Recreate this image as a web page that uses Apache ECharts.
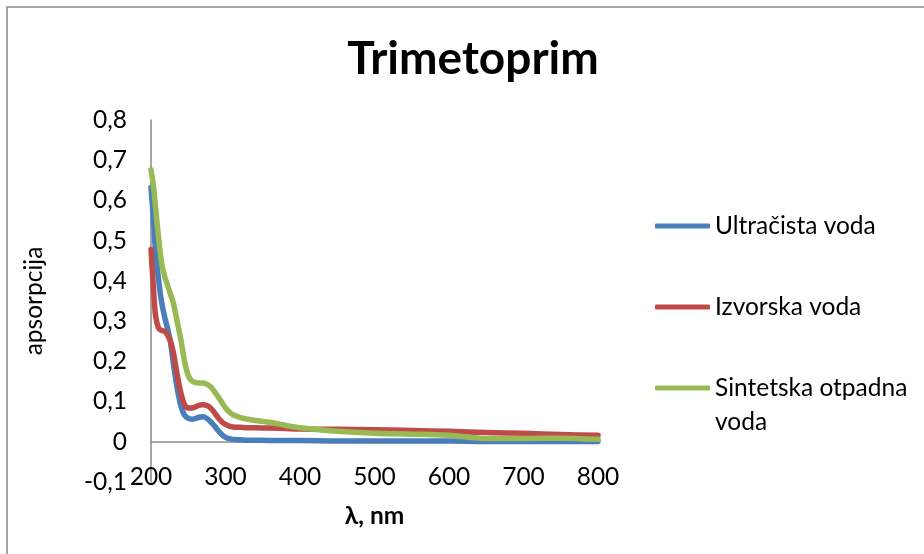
<!DOCTYPE html>
<html><head><meta charset="utf-8">
<script src="https://cdn.jsdelivr.net/npm/echarts@6/dist/echarts.min.js"></script>
<style>html,body{margin:0;padding:0;background:#fff}#c{width:924px;height:554px}</style>
</head><body><div id="c"></div>
<script>
const FONT = 'Lato';
const chartTitle = 'Trimetoprim';
const xAxisName = 'λ, nm';
const yAxisName = 'apsorpcija';
const seriesNames = ['Ultračista voda', 'Izvorska voda', 'Sintetska otpadna voda'];
const wavelengths = [200,203,206,210,214,218,222,226,230,235,240,245,250,255,260,265,270,275,280,285,290,295,300,305,310,320,330,340,360,380,400,450,500,550,600,650,700,750,800];
const ultracista = [0.632,0.56,0.475,0.405,0.35,0.313,0.283,0.25,0.195,0.135,0.09,0.066,0.058,0.056,0.058,0.061,0.062,0.058,0.050,0.040,0.028,0.018,0.011,0.008,0.006,0.005,0.004,0.004,0.003,0.003,0.003,0.002,0.002,0.002,0.002,0.001,0.001,0.001,0.001];
const izvorska = [0.478,0.39,0.315,0.283,0.277,0.275,0.266,0.25,0.222,0.168,0.122,0.092,0.084,0.084,0.087,0.091,0.092,0.090,0.084,0.073,0.060,0.050,0.043,0.039,0.037,0.036,0.035,0.035,0.034,0.033,0.032,0.031,0.030,0.028,0.026,0.023,0.021,0.018,0.016];
const sintetska = [0.676,0.64,0.585,0.51,0.447,0.413,0.39,0.368,0.345,0.30,0.255,0.20,0.165,0.151,0.147,0.146,0.146,0.143,0.137,0.125,0.112,0.098,0.084,0.074,0.067,0.060,0.056,0.053,0.048,0.041,0.035,0.026,0.021,0.019,0.016,0.008,0.008,0.009,0.006];
const xTickLabels = ['200','300','400','500','600','700','800'];
const yTickLabels = ['-0,1','0','0,1','0,2','0,3','0,4','0,5','0,6','0,7','0,8'];
const colors = ['#4A7EBB', '#BE4B48', '#98B954'];

const X_MIN = 200, X_MAX = 800, X_STEP = 100;
const Y_MIN = -0.1, Y_MAX = 0.8, Y_STEP = 0.1;

const valueSets = [ultracista, izvorska, sintetska];
const pairs = v => wavelengths.map((w, i) => [w, v[i]]);

// measure title to centre it at x=473
const ctx = document.createElement('canvas').getContext('2d');
const TITLE_SIZE = 46;
ctx.font = 'bold ' + TITLE_SIZE + 'px ' + FONT;
const titleW = ctx.measureText(chartTitle).width;

const LBL = 24.5;
const LH = 34;
const splitColors = yTickLabels.map(l => l === '0' ? '#898989' : 'rgba(0,0,0,0)');

const chart = echarts.init(document.getElementById('c'), null, {renderer: 'canvas'});
const legendBase = {
  orient: 'vertical', left: 655, padding: 0, itemWidth: 55, itemHeight: 5, icon: 'roundRect',
  textStyle: {fontFamily: FONT, fontSize: LBL, color: '#000', lineHeight: LH},
  selectedMode: false
};
chart.setOption({
  animation: false,
  backgroundColor: '#fff',
  title: {
    text: chartTitle, left: 473 - titleW / 2, top: 36, padding: 0,
    textStyle: {fontFamily: FONT, fontWeight: 'bold', fontSize: TITLE_SIZE, color: '#000'}
  },
  graphic: [{
    type: 'rect', shape: {x: 7, y: 7, width: 1000, height: 1000},
    style: {fill: null, stroke: '#898989', lineWidth: 1.5}, silent: true
  }],
  legend: [
    Object.assign({}, legendBase, {data: [seriesNames[0]], top: 226 - LH / 2}),
    Object.assign({}, legendBase, {data: [seriesNames[1]], top: 307 - LH / 2}),
    Object.assign({}, legendBase, {
      data: [seriesNames[2]], top: 388 - LH * 1.5,
      formatter: () => '\u00a0\nSintetska otpadna\nvoda'
    })
  ],
  grid: {left: 151, right: 924 - 598, top: 120, bottom: 554 - 482, containLabel: false},
  xAxis: {
    type: 'value', min: X_MIN, max: X_MAX, interval: X_STEP,
    name: xAxisName, nameLocation: 'middle', nameGap: 22,
    nameTextStyle: {fontFamily: FONT, fontWeight: 'bold', fontSize: LBL, color: '#000'},
    axisLine: {show: false}, axisTick: {show: false}, splitLine: {show: false},
    axisLabel: {
      fontFamily: FONT, fontSize: LBL, color: '#000', margin: -5, verticalAlign: 'middle',
      formatter: v => xTickLabels[Math.round((v - X_MIN) / X_STEP)]
    }
  },
  yAxis: {
    type: 'value', min: Y_MIN, max: Y_MAX, interval: Y_STEP,
    name: yAxisName, nameLocation: 'middle', nameGap: 104, nameRotate: 90,
    nameTextStyle: {fontFamily: FONT, fontSize: LBL, color: '#000'},
    axisLine: {show: true, lineStyle: {color: '#898989', width: 1.5}},
    axisTick: {show: false},
    splitLine: {show: true, lineStyle: {color: splitColors, width: 1.5}},
    axisLabel: {
      fontFamily: FONT, fontSize: LBL, color: '#000', margin: 24,
      formatter: v => yTickLabels[Math.round((v - Y_MIN) / Y_STEP)]
    }
  },
  series: valueSets.map((v, i) => ({
    name: seriesNames[i], type: 'line', data: pairs(v), smooth: 0.3,
    symbol: 'none', color: colors[i], itemStyle: {color: colors[i]},
    lineStyle: {width: 5.5, color: colors[i], cap: 'round', join: 'round'}
  }))
});
</script></body></html>
